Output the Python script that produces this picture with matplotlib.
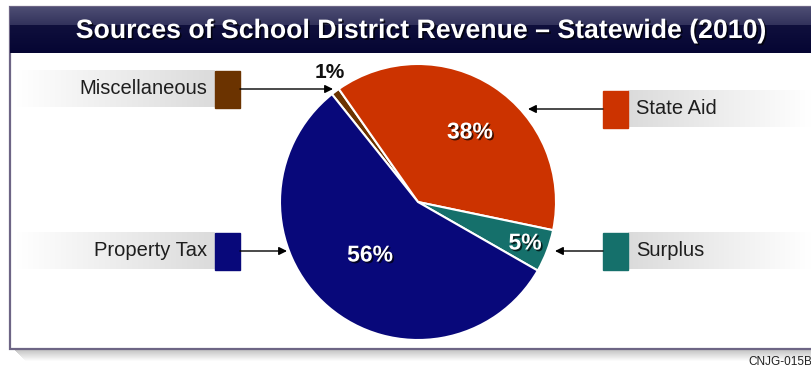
import numpy as np
import matplotlib.pyplot as plt
import matplotlib.patheffects as pe
from matplotlib.patches import Rectangle

# Revenue shares (percent), in clockwise order from the top of the pie
sources = ["Miscellaneous", "State Aid", "Surplus", "Property Tax"]
shares = [1, 38, 5, 56]
colors = ["#6b3300", "#cc3300", "#15706b", "#08087a"]
pct_labels = [f"{v}%" for v in shares]

W, H = 812, 370
fig = plt.figure(figsize=(W / 100, H / 100), dpi=100)
fig.patch.set_facecolor("white")
plt.rcParams["font.family"] = ["Liberation Sans", "DejaVu Sans"]

# full-figure axes in pixel coordinates for the frame, boxes and arrows
bg = fig.add_axes([0, 0, 1, 1])
bg.set_xlim(0, W)
bg.set_ylim(H, 0)
bg.axis("off")

shadow = [pe.withSimplePatchShadow(offset=(1.2, -1.2), shadow_rgbFace="black", alpha=0.7)]

# drop shadow under the panel
for i, a in enumerate(np.linspace(0.35, 0.02, 12)):
    bg.add_patch(Rectangle((14 + i, 349 + i), W, 1.2, color="#505050", alpha=a, lw=0))

# panel
bg.add_patch(Rectangle((10, 7), W, 342, facecolor="white", edgecolor="#6d6585", lw=1.6))

# glossy title bar
grad = np.concatenate([np.linspace(0.0, 0.35, 18), np.linspace(0.85, 1.0, 28)])
top = np.array([0.30, 0.30, 0.45])
bottom = np.array([0.02, 0.02, 0.20])
bar = top[None, :] * (1 - grad[:, None]) + bottom[None, :] * grad[:, None]
bg.imshow(bar[:, None, :], extent=(10, W, 53, 7), aspect="auto", interpolation="bilinear", zorder=2)
bg.text(420, 31, "Sources of School District Revenue \u2013 Statewide (2010)", color="white",
        fontsize=19.2, fontweight="bold", ha="center", va="center", zorder=3, path_effects=shadow)

# legend boxes: label panel, colour swatch, arrow into the pie
ramp = np.linspace(1.0, 0.86, 64)
left_ramp = np.repeat(ramp[None, :, None], 3, axis=2)
right_ramp = left_ramp[:, ::-1, :]

box_rows = {"Miscellaneous": 89, "Property Tax": 251, "State Aid": 109, "Surplus": 251}
arrow_tips = {"Miscellaneous": 333, "Property Tax": 287, "State Aid": 528, "Surplus": 555}

for name, col in zip(sources, colors):
    yc = box_rows[name]
    y0, y1 = yc - 18.5, yc + 18.5
    if name in ("Miscellaneous", "Property Tax"):
        bg.imshow(left_ramp, extent=(15, 215, y1, y0), aspect="auto", interpolation="bilinear", zorder=2)
        bg.add_patch(Rectangle((215, y0), 25, y1 - y0, color=col, zorder=3))
        bg.text(207, yc, name, fontsize=14.5, ha="right", va="center", color="#1e1e1e", zorder=4)
        bg.annotate("", xy=(arrow_tips[name], yc), xytext=(240, yc),
                    arrowprops=dict(arrowstyle="-|>", color="black", lw=1.0,
                                    mutation_scale=12, shrinkA=0, shrinkB=0), zorder=4)
    else:
        bg.imshow(right_ramp, extent=(628, W, y1, y0), aspect="auto", interpolation="bilinear", zorder=2)
        bg.add_patch(Rectangle((603, y0), 25, y1 - y0, color=col, zorder=3))
        bg.text(636, yc, name, fontsize=14.5, ha="left", va="center", color="#1e1e1e", zorder=4)
        bg.annotate("", xy=(arrow_tips[name], yc), xytext=(603, yc),
                    arrowprops=dict(arrowstyle="-|>", color="black", lw=1.0,
                                    mutation_scale=12, shrinkA=0, shrinkB=0), zorder=4)

bg.text(748, 362, "CNJG-015B", fontsize=8.5, ha="left", va="center", color="#222222")

# pie, centred at (418, 202) with radius 138 px, drawn over the panel
cx, cy, r = 418, 202, 138
pie_ax = fig.add_axes([(cx - r) / W, (H - cy - r) / H, 2 * r / W, 2 * r / H])
pie_ax.patch.set_alpha(0)
pie_ax.pie(shares, colors=colors, startangle=128.6, counterclock=False, radius=1,
           wedgeprops=dict(edgecolor="white", linewidth=1.5))
pie_ax.set_xlim(-1, 1)
pie_ax.set_ylim(-1, 1)
pie_ax.axis("off")

# percentage labels (pixel positions), as figure texts so they sit above the pie
label_pos = {"Miscellaneous": (330, 73), "State Aid": (470, 132), "Surplus": (525, 243), "Property Tax": (370, 255)}
for name, txt in zip(sources, pct_labels):
    x, y = label_pos[name]
    if name == "Miscellaneous":
        fig.text(x, y, txt, transform=bg.transData, fontsize=15, fontweight="bold", color="#111111",
                 ha="center", va="center", zorder=6)
    else:
        fig.text(x, y, txt, transform=bg.transData, fontsize=16.5, fontweight="bold", color="white",
                 ha="center", va="center", zorder=6, path_effects=shadow)

fig.savefig("out.png", dpi=100)
